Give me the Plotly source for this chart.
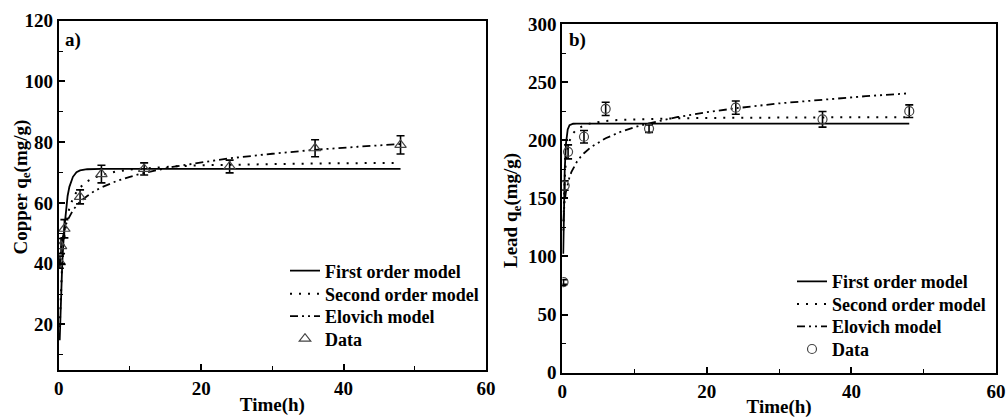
import plotly.graph_objects as go

# ---------------- data ----------------
# (a) Copper
cu_time = [0.17, 0.33, 0.8, 3, 6, 12, 24, 36, 48]
cu_q = [40.5, 45.8, 51.5, 62.0, 69.5, 71.2, 72.0, 78.0, 79.1]
cu_err = [2.0, 2.5, 3.0, 2.3, 2.9, 2.0, 2.1, 2.8, 3.0]

cu_model_time = [0.14, 0.25, 0.33, 0.5, 0.75, 1, 1.25, 1.5, 2, 2.5, 3, 4, 5, 6,
                 8, 10, 12, 16, 20, 24, 30, 36, 42, 48]
cu_first = [14.8, 24.2, 30.0, 40.2, 50.7, 57.7, 62.3, 65.3, 68.6, 70.1, 70.7, 71.1,
            71.2, 71.2, 71.2, 71.2, 71.2, 71.2, 71.2, 71.2, 71.2, 71.2, 71.2, 71.2]
cu_second = [19.1, 28.4, 33.4, 41.0, 48.1, 52.7, 55.9, 58.3, 61.5, 63.6, 65.1, 67.1,
             68.3, 69.2, 70.3, 71.0, 71.4, 72.0, 72.4, 72.6, 72.8, 73.0, 73.1, 73.2]
cu_elovich = [39.3, 43.3, 45.2, 48.0, 50.8, 52.8, 54.3, 55.6, 57.6, 59.1, 60.4, 62.3,
              63.9, 65.1, 67.1, 68.6, 69.9, 71.9, 73.4, 74.7, 76.2, 77.5, 78.5, 79.4]

# (b) Lead
pb_time = [0.17, 0.33, 0.8, 3, 6, 12, 24, 36, 48]
pb_q = [78, 161, 190, 203, 227, 210, 228, 218, 225]
pb_err = [2.0, 4.0, 6.0, 5.4, 5.7, 3.2, 5.7, 6.7, 5.4]

pb_model_time = [0.13, 0.17, 0.25, 0.33, 0.5, 0.75, 1, 1.25, 1.5, 2, 2.5, 3, 4, 5, 6,
                 8, 10, 12, 16, 20, 24, 30, 36, 42, 48]
pb_first = [102.4, 122.7, 152.9, 173.2, 196.7, 209.3, 212.9, 213.9, 214.2, 214.3,
            214.3, 214.3, 214.3, 214.3, 214.3, 214.3, 214.3, 214.3, 214.3, 214.3,
            214.3, 214.3, 214.3, 214.3, 214.3]
pb_second = [122.3, 136.6, 155.5, 167.5, 182.3, 193.4, 199.5, 203.4, 206.0, 209.4,
             211.5, 212.9, 214.7, 215.8, 216.6, 217.5, 218.0, 218.4, 218.9, 219.2,
             219.4, 219.5, 219.7, 219.8, 219.8]
pb_elovich = [130.5, 135.4, 142.6, 147.8, 155.5, 163.0, 168.4, 172.5, 175.9, 181.3,
              185.4, 188.8, 194.2, 198.3, 201.7, 207.1, 211.2, 214.6, 220.0, 224.1,
              227.5, 231.7, 235.1, 237.9, 240.4]

series_names = ["First order model", "Second order model", "Elovich model", "Data"]

# ---------------- styling ----------------
FONT = "Liberation Serif, Times New Roman, serif"
DOT = "2px,7px"
DASHDOTDOT = "8px,4px,2px,4px,2px,4px"
W, H = 1008, 418

fig = go.Figure()

# one legend per entry so that rows can sit exactly where the reference puts them
left_legends = ["legend", "legend3", "legend4", "legend5"]
right_legends = ["legend2", "legend6", "legend7", "legend8"]


def add_panel(xa, ya, legs, t_model, first, second, elov, t_data, q, err, symbol, msize):
    fig.add_trace(go.Scatter(x=t_model, y=first, mode="lines", name=series_names[0],
                             line=dict(color="black", width=1.8),
                             xaxis=xa, yaxis=ya, legend=legs[0]))
    fig.add_trace(go.Scatter(x=t_model, y=second, mode="lines", name=series_names[1],
                             line=dict(color="black", width=2, dash=DOT),
                             xaxis=xa, yaxis=ya, legend=legs[1]))
    fig.add_trace(go.Scatter(x=t_model, y=elov, mode="lines", name=series_names[2],
                             line=dict(color="black", width=1.8, dash=DASHDOTDOT),
                             xaxis=xa, yaxis=ya, legend=legs[2]))
    fig.add_trace(go.Scatter(x=t_data, y=q, mode="markers", name=series_names[3],
                             marker=dict(symbol=symbol, size=msize, color="#444444",
                                         line=dict(width=1.2)),
                             error_y=dict(type="data", array=err, visible=True,
                                          color="black", thickness=1.6, width=4),
                             xaxis=xa, yaxis=ya, legend=legs[3]))


add_panel("x", "y", left_legends, cu_model_time, cu_first, cu_second, cu_elovich,
          cu_time, cu_q, cu_err, "triangle-up-open", 10)
add_panel("x2", "y2", right_legends, pb_model_time, pb_first, pb_second, pb_elovich,
          pb_time, pb_q, pb_err, "circle-open", 9)

tickfont = dict(family=FONT, size=19, color="black", weight="bold")


def xax(domain, anchor):
    return dict(domain=domain, anchor=anchor, range=[0, 60], tick0=0, dtick=20,
                ticks="inside", ticklen=6, tickwidth=1.5, tickcolor="black",
                minor=dict(ticks="inside", dtick=10, tick0=0, ticklen=4,
                           tickwidth=1.2, tickcolor="black"),
                showline=True, linecolor="black", linewidth=2, mirror=True,
                showgrid=False, zeroline=False, tickfont=tickfont, automargin=False,
                title=dict(text="Time(h)", standoff=0,
                           font=dict(family=FONT, size=19, color="black", weight="bold")))


def yax(domain, anchor, rng, dtick):
    return dict(domain=domain, anchor=anchor, range=rng, tick0=0, dtick=dtick,
                ticks="inside", ticklen=6, tickwidth=1.5, tickcolor="black",
                minor=dict(ticks="inside", dtick=dtick / 2, tick0=0, ticklen=4,
                           tickwidth=1.2, tickcolor="black"),
                showline=True, linecolor="black", linewidth=2, mirror=True,
                showgrid=False, zeroline=False, tickfont=tickfont, automargin=False)


legend_font = dict(family=FONT, size=18, color="black", weight="bold")


def leg(px_left, py_center):
    return dict(x=px_left / W, y=1 - py_center / H, xanchor="left", yanchor="middle",
                font=legend_font, bgcolor="rgba(0,0,0,0)", borderwidth=0)


left_rows = [271, 294, 316.5, 339]
right_rows = [281.7, 304.3, 326.7, 349.3]
LX, RX = 285, 792

layout_legends = {}
for name, yc in zip(left_legends, left_rows):
    layout_legends[name] = leg(LX, yc)
for name, yc in zip(right_legends, right_rows):
    layout_legends[name] = leg(RX, yc)

fig.update_layout(
    width=W, height=H,
    margin=dict(l=0, r=0, t=0, b=0, autoexpand=False),
    paper_bgcolor="white", plot_bgcolor="white",
    showlegend=True,
    xaxis=xax([58.7 / W, 486 / W], "y"),
    yaxis=yax([1 - 370 / H, 1 - 20.7 / H], "x", [5, 120], 20),
    xaxis2=xax([562.3 / W, 996 / W], "y2"),
    yaxis2=yax([1 - 372.7 / H, 1 - 24 / H], "x2", [0, 300], 50),
    annotations=[
        dict(text="a)", x=63 / W, y=1 - 39.5 / H, xref="paper", yref="paper",
             xanchor="left", yanchor="middle", showarrow=False,
             font=dict(family=FONT, size=19, color="black", weight="bold")),
        dict(text="b)", x=567 / W, y=1 - 40 / H, xref="paper", yref="paper",
             xanchor="left", yanchor="middle", showarrow=False,
             font=dict(family=FONT, size=19, color="black", weight="bold")),
        dict(text="Copper q<sub>e</sub>(mg/g)", x=21 / W, y=1 - 187.5 / H,
             xref="paper", yref="paper", xanchor="center", yanchor="middle",
             textangle=-90, showarrow=False,
             font=dict(family=FONT, size=19, color="black", weight="bold")),
        dict(text="Lead q<sub>e</sub>(mg/g)", x=512 / W, y=1 - 211 / H,
             xref="paper", yref="paper", xanchor="center", yanchor="middle",
             textangle=-90, showarrow=False,
             font=dict(family=FONT, size=19, color="black", weight="bold")),
    ],
    **layout_legends,
)

fig.write_html(
    "out.html",
    config={"displayModeBar": False},
    post_script="document.body.style.margin='0px';document.body.style.overflow='hidden';",
)
